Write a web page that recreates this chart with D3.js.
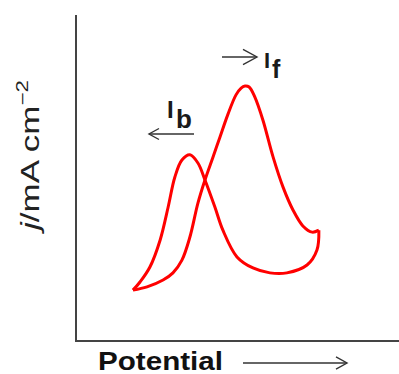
<!DOCTYPE html>
<html>
<head>
<meta charset="utf-8">
<script src="https://cdn.jsdelivr.net/npm/d3@7"></script>
<style>
  body { margin: 0; background: #fff; }
  text { font-family: "Liberation Sans", Arial, sans-serif; }
</style>
</head>
<body>
<script>
// forward scan (lower branch, left tip -> right corner)
var fwdE = [17.8, 22.2, 27.2, 30.3, 33.1, 35.6, 38.1, 40.3, 42.8, 45.0, 47.5, 50.0, 51.6, 52.8, 54.1, 55.9, 58.4, 61.6, 64.7, 67.8, 70.9, 73.8, 75.9];
var fwdJ = [15.6, 16.6, 18.7, 20.9, 24.8, 31.9, 42.3, 49.4, 56.4, 62.6, 69.6, 75.5, 77.6, 78.2, 77.9, 74.8, 67.8, 56.4, 47.2, 40.2, 35.3, 33.4, 34.0];
// reverse scan (right corner -> left tip)
var revE = [75.9, 75.3, 72.2, 65.9, 60.6, 55.3, 50.3, 45.9, 43.4, 40.3, 38.1, 35.6, 33.1, 30.9, 28.8, 26.3, 23.1, 20.0, 17.8];
var revJ = [34.0, 27.9, 23.3, 20.9, 20.9, 22.4, 25.8, 34.0, 41.1, 49.4, 54.6, 57.1, 55.5, 50.3, 41.1, 31.0, 22.7, 18.1, 15.6];

const W = 399, H = 374;
var svg = d3.select("body").append("svg")
  .attr("width", W)
  .attr("height", H);

var x = d3.scaleLinear().domain([0, 100]).range([76, 396]);
var y = d3.scaleLinear().domain([0, 100]).range([341, 15]);

// axes as plain lines, no ticks
svg.append("line")
  .attr("x1", x(0)).attr("x2", x(0))
  .attr("y1", y(100)).attr("y2", y(0) + 1)
  .attr("stroke", "#444").attr("stroke-width", 2);
svg.append("line")
  .attr("x1", x(0) - 1).attr("x2", W)
  .attr("y1", y(0)).attr("y2", y(0))
  .attr("stroke", "#444").attr("stroke-width", 2);

var line = d3.line()
  .x(function(d) { return x(d[0]); })
  .y(function(d) { return y(d[1]); })
  .curve(d3.curveCatmullRom.alpha(0.5));

[[fwdE, fwdJ], [revE, revJ]].forEach(function(s) {
  svg.append("path")
    .datum(d3.zip(s[0], s[1]))
    .attr("d", line)
    .attr("fill", "none")
    .attr("stroke", "#ff0000")
    .attr("stroke-width", 3)
    .attr("stroke-linejoin", "miter");
});

function arrow(x1, x2, yy, head) {
  var dir = x2 > x1 ? 1 : -1;
  svg.append("line")
    .attr("x1", x1).attr("x2", x2).attr("y1", yy).attr("y2", yy)
    .attr("stroke", "#333").attr("stroke-width", 1.4);
  svg.append("path")
    .attr("d", "M" + (x2 - dir * head) + "," + (yy - head * 0.55) +
               "L" + x2 + "," + yy +
               "L" + (x2 - dir * head) + "," + (yy + head * 0.55))
    .attr("fill", "none").attr("stroke", "#333").attr("stroke-width", 1.4);
}

// I_f label
arrow(222, 257, 57, 14);
svg.append("text").attr("x", 264).attr("y", 68)
  .attr("font-size", 22).attr("font-weight", "bold").attr("fill", "#1a1a1a").text("I");
svg.append("text").attr("x", 272).attr("y", 78)
  .attr("font-size", 25).attr("font-weight", "bold").attr("fill", "#1a1a1a").text("f");

// I_b label
arrow(194, 149, 134, 10);
svg.append("text").attr("x", 167).attr("y", 118)
  .attr("font-size", 24).attr("font-weight", "bold").attr("fill", "#1a1a1a").text("I");
svg.append("text").attr("x", 176).attr("y", 128)
  .attr("font-size", 26).attr("font-weight", "bold").attr("fill", "#1a1a1a").text("b");

// y label
var yl = svg.append("text")
  .attr("transform", "translate(39,230) rotate(-90)")
  .attr("font-size", 25).attr("fill", "#222")
  .attr("textLength", 150).attr("lengthAdjust", "spacingAndGlyphs");
yl.append("tspan").attr("font-style", "italic").text("j");
yl.append("tspan").text("/mA cm");
yl.append("tspan").attr("font-size", 16).attr("dy", -11).text("\u22122");

// x label
svg.append("text").attr("x", 98).attr("y", 370)
  .attr("font-size", 25).attr("font-weight", "bold").attr("fill", "#111")
  .attr("textLength", 125).attr("lengthAdjust", "spacingAndGlyphs")
  .text("Potential");
arrow(243, 347, 363, 11);
</script>
</body>
</html>
